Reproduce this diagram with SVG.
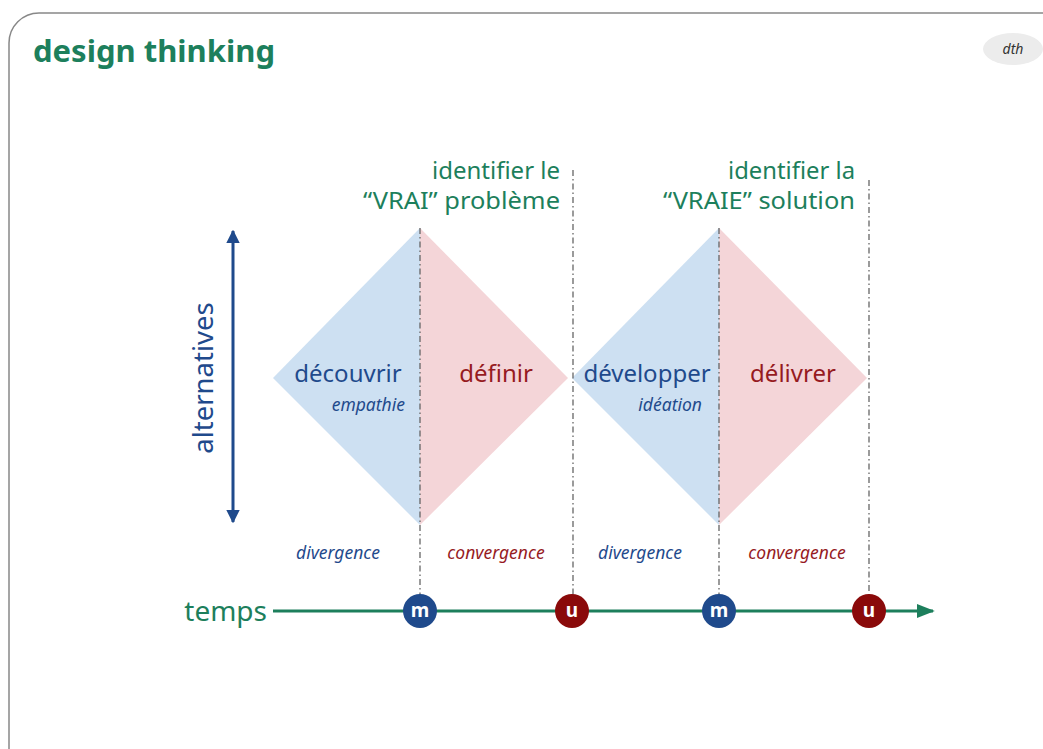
<svg xmlns="http://www.w3.org/2000/svg" width="1043" height="749" viewBox="0 0 1043 749">
<style>
.g{fill:#1d7f5c;font-family:"Noto Sans","Liberation Sans",sans-serif}
.b{fill:#1f4a8c;font-family:"Noto Sans","Liberation Sans",sans-serif}
.r{fill:#961b1f;font-family:"Noto Sans","Liberation Sans",sans-serif}
.it{font-style:italic;font-size:17.5px}
.big{font-size:24px}
.hd{font-size:23.5px}
.dash{stroke:#666;stroke-width:1.3;stroke-dasharray:6 3 1.5 3;fill:none}
.circ{font-family:"Noto Sans","Liberation Sans",sans-serif;font-size:19px;font-weight:bold;fill:#fff;text-anchor:middle}
</style>
<defs>
<marker id="ag" viewBox="0 0 10 10" refX="9" refY="5" markerWidth="6" markerHeight="6" orient="auto" markerUnits="strokeWidth"><path d="M0,1 L10,5 L0,9 z" fill="#1d7f5c"/></marker>
<marker id="ab" viewBox="0 0 10 10" refX="9" refY="5" markerWidth="4.5" markerHeight="4.5" orient="auto-start-reverse" markerUnits="strokeWidth"><path d="M0,0 L10,5 L0,10 z" fill="#1f4a8c"/></marker>
</defs>
<rect x="9" y="13" width="1070" height="770" rx="30" fill="#fff" stroke="#888" stroke-width="1.5"/>
<g id="title"><text x="33" y="62" class="g" font-size="31" font-weight="bold" textLength="242" lengthAdjust="spacingAndGlyphs">design thinking</text></g>
<g id="badge"><ellipse cx="1013" cy="49" rx="30" ry="16" fill="#ececec"/><text x="1013" y="54" font-family="Noto Sans,Liberation Sans,sans-serif" font-style="italic" font-size="14" fill="#333" text-anchor="middle">dth</text></g>
<g id="diamond1">
<polygon points="273,378 420,228 420,525" fill="#cde0f2"/>
<polygon points="420,228 568,378 420,525" fill="#f4d5d8"/>
</g>
<g id="diamond2">
<polygon points="572,378 719,228 719,525" fill="#cde0f2"/>
<polygon points="719,228 867,378 719,525" fill="#f4d5d8"/>
</g>
<g id="connectors">
<line class="dash" x1="420" y1="228" x2="420" y2="596"/>
<line class="dash" x1="573" y1="170" x2="573" y2="596"/>
<line class="dash" x1="719" y1="228" x2="719" y2="596"/>
<line class="dash" x1="869" y1="180" x2="869" y2="596"/>
<line x1="273" y1="611" x2="933" y2="611" stroke="#1d7f5c" stroke-width="3" marker-end="url(#ag)"/>
<line x1="233" y1="231" x2="233" y2="522" stroke="#1f4a8c" stroke-width="3" marker-start="url(#ab)" marker-end="url(#ab)"/>
</g>
<g id="labels-top">
<text x="560" y="179" class="g hd" text-anchor="end" textLength="128" lengthAdjust="spacingAndGlyphs">identifier le</text>
<text x="560" y="209" class="g hd" text-anchor="end" textLength="197" lengthAdjust="spacingAndGlyphs">“VRAI” problème</text>
<text x="855" y="179" class="g hd" text-anchor="end" textLength="127" lengthAdjust="spacingAndGlyphs">identifier la</text>
<text x="855" y="209" class="g hd" text-anchor="end" textLength="192" lengthAdjust="spacingAndGlyphs">“VRAIE” solution</text>
</g>
<g id="decouvrir"><text x="348" y="382" class="b big" text-anchor="middle">découvrir</text><text x="405" y="411" class="b it" text-anchor="end">empathie</text></g>
<g id="definir"><text x="496" y="382" class="r big" text-anchor="middle">définir</text></g>
<g id="developper"><text x="647" y="382" class="b big" text-anchor="middle">développer</text><text x="702" y="411" class="b it" text-anchor="end">idéation</text></g>
<g id="delivrer"><text x="793" y="382" class="r big" text-anchor="middle">délivrer</text></g>
<g id="phases">
<text x="338" y="559" class="b it" text-anchor="middle">divergence</text>
<text x="496" y="559" class="r it" text-anchor="middle">convergence</text>
<text x="640" y="559" class="b it" text-anchor="middle">divergence</text>
<text x="797" y="559" class="r it" text-anchor="middle">convergence</text>
</g>
<g id="alternatives"><text transform="translate(213,378) rotate(-90)" class="b" font-size="27.5" text-anchor="middle">alternatives</text></g>
<g id="temps"><text x="267" y="621" class="g" font-size="28" text-anchor="end">temps</text></g>
<g id="m1"><circle cx="420" cy="611" r="17" fill="#1f4a8c"/><text x="420" y="617" class="circ">m</text></g>
<g id="u1"><circle cx="572" cy="611" r="17" fill="#8a0a0a"/><text x="572" y="617" class="circ">u</text></g>
<g id="m2"><circle cx="719" cy="611" r="17" fill="#1f4a8c"/><text x="719" y="617" class="circ">m</text></g>
<g id="u2"><circle cx="869" cy="611" r="17" fill="#8a0a0a"/><text x="869" y="617" class="circ">u</text></g>
</svg>
